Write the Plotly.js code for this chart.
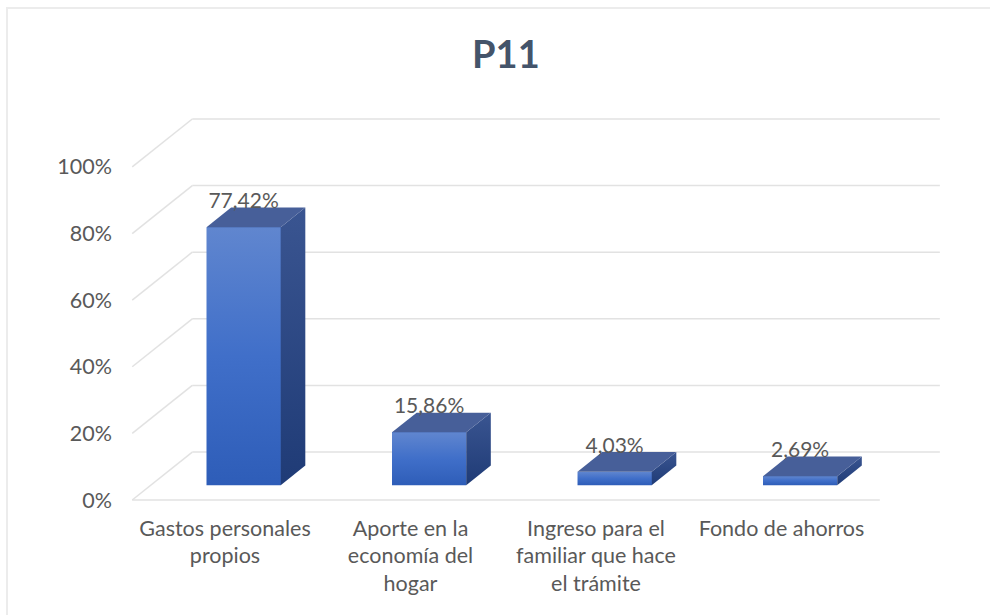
<!DOCTYPE html>
<html>
<head>
<meta charset="utf-8">
<script src="https://cdn.plot.ly/plotly-3.0.1.min.js"></script>
<style>
  html, body { margin: 0; padding: 0; background: #ffffff; }
  #wrap { position: relative; width: 990px; height: 615px; overflow: hidden; }
  #chart { position: absolute; left: 0; top: 0; width: 990px; height: 615px; }
  #frame { position: absolute; left: 6px; top: 7px; width: 1100px; height: 700px;
           border-top: 2px solid #ececec; border-left: 2px solid #ececec; pointer-events: none; }
</style>
</head>
<body>
<div id="wrap">
  <div id="chart"></div>
  <div id="frame"></div>
</div>
<script>
// ---- data ----
const categories = [
  "Gastos personales<br>propios",
  "Aporte en la<br>economía del<br>hogar",
  "Ingreso para el<br>familiar que hace<br>el trámite",
  "Fondo de ahorros"
];
const values = [77.42, 15.86, 4.03, 2.69];
const valueLabels = ["77,42%", "15,86%", "4,03%", "2,69%"];
const yTicks = [0, 20, 40, 60, 80, 100];
const yTickLabels = ["0%", "20%", "40%", "60%", "80%", "100%"];

// ---- oblique projection settings (styling, not data) ----
const DEPTH_DX = 0.3235;   // x shift (category units) for full depth
const DEPTH_DY = 14.4;     // y shift (percent units) for full depth
const WALL_LEFT = -0.5, WALL_RIGHT = 3.53;
const BAR_D0 = 0.31, BAR_D1 = 0.72;   // bar depth span (0 = front, 1 = back)
const BAR_HALF = 0.2;

const xIdx = categories.map((_, i) => i);
const barBase = BAR_D0 * DEPTH_DY;
const barShiftX = BAR_D0 * DEPTH_DX;
const ddx = (BAR_D1 - BAR_D0) * DEPTH_DX;
const ddy = (BAR_D1 - BAR_D0) * DEPTH_DY;
const FONT = "Lato, 'Liberation Sans', sans-serif";

// gridlines: back wall + left wall diagonals (from tick values)
const gridColor = "#e2e2e2";
const shapes = [];
yTicks.forEach(t => {
  shapes.push({type: "line", layer: "below", xref: "x", yref: "y",
    x0: WALL_LEFT, y0: t, x1: WALL_LEFT + DEPTH_DX, y1: t + DEPTH_DY,
    line: {color: gridColor, width: 1.5}});
  shapes.push({type: "line", layer: "below", xref: "x", yref: "y",
    x0: WALL_LEFT + DEPTH_DX, y0: t + DEPTH_DY, x1: WALL_RIGHT + DEPTH_DX, y1: t + DEPTH_DY,
    line: {color: gridColor, width: 1.5}});
});
// front edge of floor
shapes.push({type: "line", layer: "below", xref: "x", yref: "y",
  x0: WALL_LEFT, y0: yTicks[0], x1: WALL_RIGHT, y1: yTicks[0],
  line: {color: gridColor, width: 1.5}});

const traces = [];
// front faces (bars)
traces.push({
  type: "bar",
  x: xIdx.map(i => i + barShiftX),
  y: values,
  base: values.map(() => barBase),
  width: BAR_HALF * 2,
  marker: {color: "#4673c8", line: {width: 0}},
  hoverinfo: "skip",
  showlegend: false
});
values.forEach((v, i) => {
  const xl = i + barShiftX - BAR_HALF, xr = i + barShiftX + BAR_HALF;
  const yb = barBase, yt = barBase + v;
  // gradient shading of the front face
  traces.push({
    type: "scatter", mode: "lines", fill: "toself",
    x: [xl, xr, xr, xl, xl],
    y: [yb, yb, yt, yt, yb],
    line: {width: 0, color: "rgba(0,0,0,0)"},
    fillcolor: "#4673c8",
    fillgradient: {type: "vertical", colorscale: [[0, "#2e5db8"], [0.5, "#406fc9"], [1, "#6086cf"]]},
    hoverinfo: "skip", showlegend: false
  });
  // side face
  traces.push({
    type: "scatter", mode: "lines", fill: "toself",
    x: [xr, xr, xr + ddx, xr + ddx, xr],
    y: [yb, yt, yt + ddy, yb + ddy, yb],
    line: {width: 0, color: "rgba(0,0,0,0)"},
    fillcolor: "#2b4683",
    fillgradient: {type: "vertical", colorscale: [[0, "#1f3b76"], [1, "#3a5591"]]},
    hoverinfo: "skip", showlegend: false
  });
  // top face
  traces.push({
    type: "scatter", mode: "lines", fill: "toself",
    x: [xl, xr, xr + ddx, xl + ddx, xl],
    y: [yt, yt, yt + ddy, yt + ddy, yt],
    line: {width: 0, color: "rgba(0,0,0,0)"},
    fillcolor: "#475f99",
    hoverinfo: "skip", showlegend: false
  });
});
// data labels
traces.push({
  type: "scatter", mode: "text",
  x: xIdx.map(i => i + barShiftX),
  y: values.map(v => barBase + v + 7.3),
  text: valueLabels,
  textposition: "middle center",
  textfont: {family: FONT, size: 21, color: "#595959"},
  hoverinfo: "skip", showlegend: false
});

const layout = {
  width: 990, height: 615,
  margin: {l: 120, r: 20, t: 100, b: 105},
  paper_bgcolor: "#ffffff", plot_bgcolor: "rgba(0,0,0,0)",
  font: {family: FONT, color: "#595959"},
  title: {
    text: "<b>P11</b>",
    xref: "container", x: 0.511, xanchor: "center",
    yref: "container", y: 0.911, yanchor: "middle",
    font: {family: FONT, size: 38, color: "#44546a"}
  },
  xaxis: {
    range: [-0.566, 4.016],
    tickvals: xIdx, ticktext: categories,
    showgrid: false, zeroline: false, showline: false, ticks: "",
    ticklabelstandoff: 3,
    tickfont: {size: 21.5, color: "#595959"},
    fixedrange: true
  },
  yaxis: {
    range: [-3.0, 120.1],
    tickvals: yTicks, ticktext: yTickLabels,
    showgrid: false, zeroline: false, showline: false, ticks: "",
    ticklabelstandoff: 7,
    tickfont: {size: 21.5, color: "#595959"},
    fixedrange: true
  },
  shapes: shapes,
  showlegend: false,
  bargap: 0
};

Plotly.newPlot("chart", traces, layout, {displayModeBar: false, staticPlot: true});
</script>
</body>
</html>
